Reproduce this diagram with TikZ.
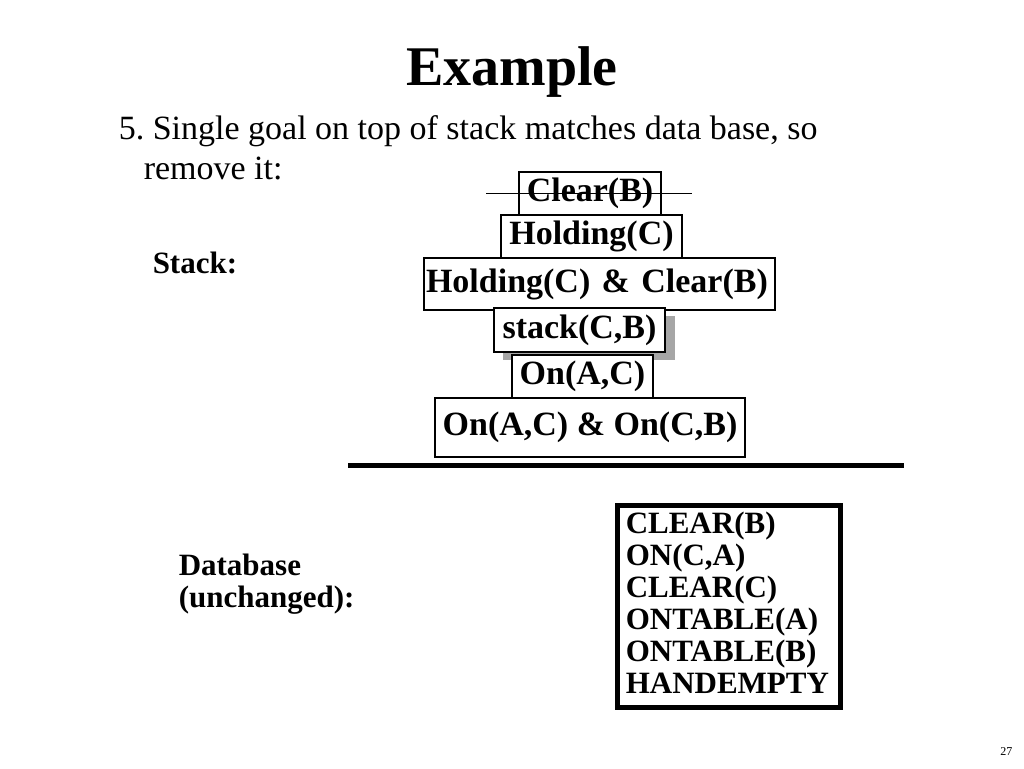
\documentclass[tikz,border=0pt]{standalone}
\usepackage{fontspec}
\setmainfont{Liberation Serif}
\usepackage{tikz}
\frenchspacing

\begin{document}
\begin{tikzpicture}[x = 1pt, y = -1pt, line width = 1.5pt,
                      goal/.style = {draw, fill = white, inner sep = 0pt, font = \fontsize{34}{36}\bfseries},
                      plain/.style = {anchor = base west, inner sep = 0pt, font = \fontsize{34}{36}\selectfont},
                      tag/.style = {anchor = base west, inner sep = 0pt, font = \fontsize{31}{32}\bfseries},
                      fact/.style = {anchor = base west, inner sep = 0pt, font = \fontsize{31}{32}\bfseries}]
    \useasboundingbox (0, 0) rectangle (1024, 768);
    \node [anchor = base, inner sep = 0pt, font = \fontsize{56}{60}\bfseries] (title) at (512, 85) {Example};
    \node [plain] (line1) at (118, 139) {5. Single goal on top of stack matches data base, so};
    \node [plain] (line2) at (143, 179) {remove it:};
    \node [tag] (stacklbl) at (152, 273) {Stack:};
    \node [tag] (dblbl) at (178, 575) {Database};
    \node [tag] (dblbl2) at (178, 607) {(unchanged):};
    % goal stack
    \fill [gray!70] (503, 316) rectangle (675, 360);
    \node [goal, minimum width = 142, minimum height = 43] (clearb) at (590, 193.5) {Clear(B)};
    \node [goal, minimum width = 181, minimum height = 43] (holdc) at (591.5, 236.5) {Holding(C)};
    \node [goal, minimum width = 351, minimum height = 52, text width = 347, inner xsep = 2, align = left] (holdclear) at (599.5, 284) {Holding(C) \& Clear(B)};
    \node [goal, minimum width = 171, minimum height = 44] (stackcb) at (579.5, 330) {stack(C,B)};
    \node [goal, minimum width = 141, minimum height = 43] (onac) at (582.5, 376.5) {On(A,C)};
    \node [goal, minimum width = 310, minimum height = 59] (onboth) at (590, 427.5) {On(A,C) \& On(C,B)};
    % strike through the top goal
    \draw [line width = 1pt] ([xshift = -32]clearb.west) -- ([xshift = 30]clearb.east);
    \coordinate (barl) at (348, 465.5);
    \coordinate (barr) at (904, 465.5);
    \draw [line width = 5pt] (barl) -- (barr);
    % database
    \draw [line width = 5pt] (617.5, 505.5) rectangle (840.5, 707.5);
    \foreach \fct [count = \i from 0] in {CLEAR(B), {ON(C,A)}, CLEAR(C), ONTABLE(A), ONTABLE(B), HANDEMPTY}
        \node [fact] (db\i) at (625, 533 + 32*\i) {\fct};
    \node [anchor = base east, inner sep = 0pt, font = \fontsize{12}{14}\selectfont] (page) at (1013, 755) {27};
\end{tikzpicture}
\end{document}
